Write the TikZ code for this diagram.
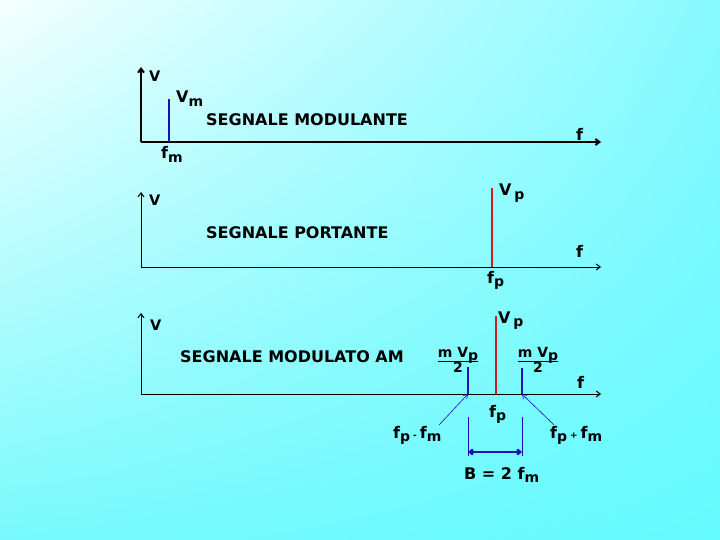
\documentclass[tikz,border=0pt]{standalone}
\usepackage{fontspec}
\setmainfont{DejaVu Sans}
\usetikzlibrary{arrows.meta,positioning,shadings}
\definecolor{bgtl}{RGB}{245,255,255}
\definecolor{bgtr}{RGB}{135,250,255}
\definecolor{bgbl}{RGB}{120,250,252}
\definecolor{bgbr}{RGB}{100,250,255}
\definecolor{specblue}{RGB}{20,20,175}
\definecolor{specred}{RGB}{205,30,30}
\setlength\arrayrulewidth{1.2pt}
\newcommand\lo[2]{#1\raisebox{-0.35ex}{\fontsize{14}{14}\selectfont#2}}

\begin{document}
\begin{tikzpicture}[x=1pt,y=-1pt,
  lbl/.style={font=\bfseries\fontsize{16}{18}\selectfont, inner sep=0pt, anchor=base west},
  axlbl/.style={font=\bfseries\fontsize{14.5}{16}\selectfont, inner sep=0pt, anchor=base west},
  axis/.style={line width=1pt, -{Straight Barb[length=4pt,width=6pt]}},
  bluel/.style={specblue, line width=2.6pt},
  redl/.style={specred, line width=2.6pt},
  pointer/.style={specblue, line width=0.6pt, -{Straight Barb[length=4pt,width=5pt]}}]
  \shade[upper left=bgtl, upper right=bgtr, lower left=bgbl, lower right=bgbr]
    (0,0) rectangle (720,540);

  % segnale modulante
  \coordinate (o1) at (141,142);
  \coordinate (v1) at (141,67);
  \coordinate (f1) at (601,142);
  \draw[axis, line width=2pt] (o1) -- (v1);
  \draw[axis, line width=2pt] (o1) -- (f1);
  \coordinate (m1b) at (169,142);
  \coordinate (m1t) at (169,99);
  \draw[bluel] (m1b) -- (m1t);
  \node[axlbl] (ylab1) at (149,82) {V};
  \node[lbl] (vm) at (176,103) {\lo{V}{m}};
  \node[lbl] (tit1) at (206,126) {SEGNALE MODULANTE};
  \node[lbl] (fm) at (161,159) {\lo{f}{m}};
  \node[lbl] (xlab1) at (576,141) {f};

  % segnale portante
  \coordinate (o2) at (141,267);
  \coordinate (v2) at (141,192);
  \coordinate (f2) at (601,267);
  \draw[axis] (o2) -- (v2);
  \draw[axis] (o2) -- (f2);
  \coordinate (p2b) at (492,267);
  \coordinate (p2t) at (492,188);
  \draw[redl] (p2b) -- (p2t);
  \node[axlbl] (ylab2) at (149,206) {V};
  \node[lbl] (vp2) at (499,196) {\lo{V\,}{p}};
  \node[lbl] (tit2) at (206,238) {SEGNALE PORTANTE};
  \node[lbl] (fp2) at (487,283) {\lo{f}{p}};
  \node[lbl] (xlab2) at (576,257) {f};

  % segnale modulato AM
  \coordinate (o3) at (141,394);
  \coordinate (v3) at (141,313);
  \coordinate (f3) at (601,394);
  \draw[axis] (o3) -- (v3);
  \draw[axis] (o3) -- (f3);
  \coordinate (p3b) at (496,394);
  \coordinate (p3t) at (496,316);
  \draw[redl] (p3b) -- (p3t);
  \coordinate (lsb) at (468,394);
  \coordinate (lst) at (468,367);
  \coordinate (usb) at (522,394);
  \coordinate (ust) at (522,368);
  \draw[bluel] (lsb) -- (lst);
  \draw[bluel] (usb) -- (ust);
  \node[axlbl] (ylab3) at (150,330) {V};
  \node[lbl] (vp3) at (498,323) {\lo{V\,}{p}};
  \node[lbl] (tit3) at (180,362) {SEGNALE MODULATO AM};
  \node[lbl, font=\bfseries\fontsize{14}{15}\selectfont, anchor=center] (lsamp) at (458,362)
    {\begin{tabular}{@{}c@{}}m \lo{V}{p}\\[-2pt]\hline 2\end{tabular}};
  \node[lbl, font=\bfseries\fontsize{14}{15}\selectfont, anchor=center] (usamp) at (538,362)
    {\begin{tabular}{@{}c@{}}m \lo{V}{p}\\[-2pt]\hline 2\end{tabular}};
  \node[lbl] (fp3) at (489,417) {\lo{f}{p}};
  \node[lbl] (xlab3) at (577,388) {f};
  \node[lbl] (fdiff) at (393,438) {\lo{f}{p}\hspace{3pt}{\small -}\hspace{3pt}\lo{f}{m}};
  \node[lbl] (fsum) at (550,438) {\lo{f}{p}\hspace{3pt}{\small +}\hspace{3pt}\lo{f}{m}};
  \coordinate (fdt) at (439,425);
  \coordinate (fst) at (554,425);
  \draw[pointer] (fdt) -- (lsb);
  \draw[pointer] (fst) -- (usb);

  % banda
  \coordinate (bl1) at (468,417);
  \coordinate (bl2) at (468,456);
  \coordinate (br1) at (522,417);
  \coordinate (br2) at (522,456);
  \draw[specblue, line width=0.6pt] (bl1) -- (bl2);
  \draw[specblue, line width=0.6pt] (br1) -- (br2);
  \draw[specblue, line width=2.4pt, {Straight Barb[length=3pt,width=5pt]}-{Straight Barb[length=3pt,width=5pt]}]
    (468,452) coordinate (ba) -- (522,452) coordinate (bb);
  \node[lbl] (band) at (464,479) {B = 2 \lo{f}{m}};
\end{tikzpicture}
\end{document}
